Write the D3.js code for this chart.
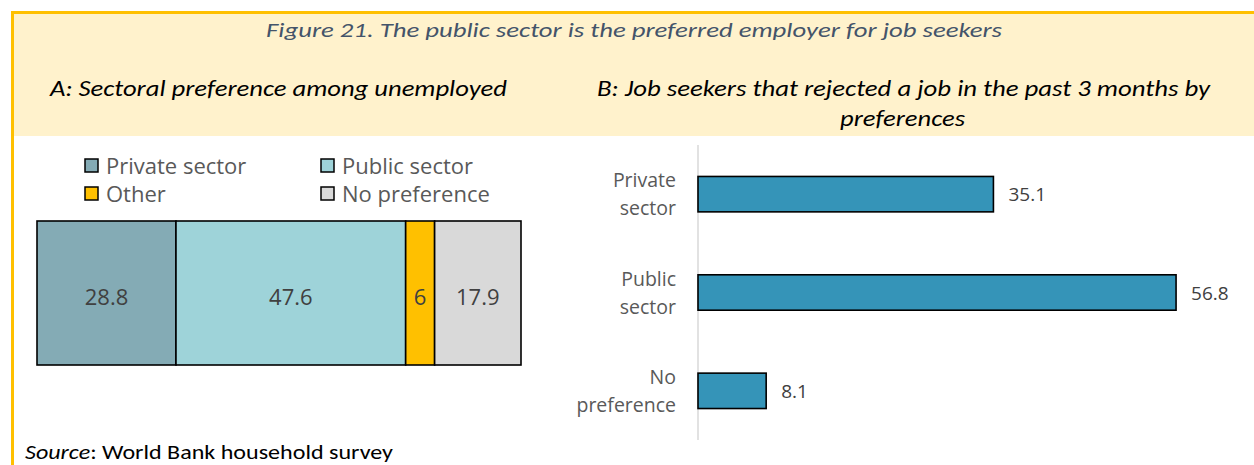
<!DOCTYPE html>
<html>
<head>
<meta charset="utf-8">
<script src="https://cdn.jsdelivr.net/npm/d3@7/dist/d3.min.js"></script>
<style>
  html, body { margin: 0; padding: 0; background: #ffffff; }
  svg { display: block; }
  .cal { font-family: Carlito, Lato, "Liberation Sans", sans-serif; }
  .seg { font-family: "Open Sans", "Noto Sans", "DejaVu Sans", sans-serif; }
</style>
</head>
<body>
<svg id="chart" width="1254" height="465"></svg>
<script>
// Panel A: sectoral preference among unemployed (stacked shares)
const prefCategories = ["Private sector", "Public sector", "Other", "No preference"];
const prefValues = [28.8, 47.6, 6, 17.9];
const prefColors = ["#84abb5", "#9ed3d9", "#ffc000", "#d9d9d9"];

// Panel B: job seekers that rejected a job in the past 3 months
const rejectCategories = ["Private sector", "Public sector", "No preference"];
const rejectValues = [35.1, 56.8, 8.1];
const rejectColor = "#3594b8";

const svg = d3.select("#chart");

// Frame and header band
svg.append("rect").attr("x", 14).attr("y", 14).attr("width", 1240).attr("height", 122)
  .attr("fill", "#fff2cc");
svg.append("line").attr("x1", 12.5).attr("x2", 12.5).attr("y1", 11).attr("y2", 465)
  .attr("stroke", "#ffc000").attr("stroke-width", 3);
svg.append("line").attr("x1", 11).attr("x2", 1254).attr("y1", 12.5).attr("y2", 12.5)
  .attr("stroke", "#ffc000").attr("stroke-width", 3);

// Headings
svg.append("text").attr("class", "cal").attr("x", 266).attr("y", 37)
  .attr("textLength", 736).attr("lengthAdjust", "spacingAndGlyphs")
  .attr("font-size", 21).attr("font-style", "italic").attr("fill", "#44546a")
  .text("Figure 21. The public sector is the preferred employer for job seekers");

svg.append("text").attr("class", "cal").attr("x", 50).attr("y", 96)
  .attr("textLength", 457).attr("lengthAdjust", "spacingAndGlyphs")
  .attr("font-size", 22).attr("font-style", "italic").attr("fill", "#000")
  .text("A: Sectoral preference among unemployed");

svg.append("text").attr("class", "cal").attr("x", 597).attr("y", 96)
  .attr("textLength", 613).attr("lengthAdjust", "spacingAndGlyphs")
  .attr("font-size", 22).attr("font-style", "italic").attr("fill", "#000")
  .text("B: Job seekers that rejected a job in the past 3 months by");
svg.append("text").attr("class", "cal").attr("x", 840).attr("y", 126)
  .attr("textLength", 125).attr("lengthAdjust", "spacingAndGlyphs")
  .attr("font-size", 22).attr("font-style", "italic").attr("fill", "#000")
  .text("preferences");

// ---------- Panel A ----------
const total = d3.sum(prefValues);
const xA = d3.scaleLinear().domain([0, total]).range([37, 521]);
const stacked = prefValues.map((v, i) => ({
  name: prefCategories[i], value: v, color: prefColors[i],
  x0: d3.sum(prefValues.slice(0, i)), x1: d3.sum(prefValues.slice(0, i + 1))
}));

const gA = svg.append("g");
gA.selectAll("rect.seg").data(stacked).join("rect")
  .attr("x", d => xA(d.x0)).attr("width", d => xA(d.x1) - xA(d.x0))
  .attr("y", 221).attr("height", 144)
  .attr("fill", d => d.color).attr("stroke", "#000").attr("stroke-width", 1.6);

gA.selectAll("text.val").data(stacked).join("text")
  .attr("class", "seg")
  .attr("x", d => (xA(d.x0) + xA(d.x1)) / 2).attr("y", 305)
  .attr("text-anchor", "middle").attr("font-size", 22).attr("fill", "#404040")
  .text(d => d3.format("~g")(d.value));

// Legend (two columns, two rows)
const legend = gA.selectAll("g.leg").data(stacked).join("g")
  .attr("transform", (d, i) => `translate(${i % 2 === 0 ? 85 : 321},${i < 2 ? 159 : 187})`);
legend.append("rect").attr("x", 0).attr("y", 0).attr("width", 13).attr("height", 13)
  .attr("fill", d => d.color).attr("stroke", "#000").attr("stroke-width", 1.5);
legend.append("text").attr("class", "seg").attr("x", 21).attr("y", 15)
  .attr("font-size", 22).attr("fill", "#595959").text(d => d.name);

// ---------- Panel B ----------
const xB = d3.scaleLinear().domain([0, 60]).range([698, 1203]);
const yB = d3.scaleBand().domain(rejectCategories).range([145, 440]).paddingInner(0.64).paddingOuter(0.32);

const gB = svg.append("g");
gB.append("line").attr("x1", 698).attr("x2", 698).attr("y1", 145).attr("y2", 440)
  .attr("stroke", "#d9d9d9").attr("stroke-width", 1.5);

gB.selectAll("rect.bar").data(rejectCategories).join("rect")
  .attr("x", xB(0)).attr("y", d => yB(d))
  .attr("width", (d, i) => xB(rejectValues[i]) - xB(0)).attr("height", yB.bandwidth())
  .attr("fill", rejectColor).attr("stroke", "#000").attr("stroke-width", 1.6);

gB.selectAll("text.val").data(rejectCategories).join("text")
  .attr("class", "seg")
  .attr("x", (d, i) => xB(rejectValues[i]) + 15)
  .attr("y", d => yB(d) + yB.bandwidth() / 2 + 7)
  .attr("font-size", 19).attr("fill", "#404040")
  .text((d, i) => rejectValues[i]);

// Category labels split over two lines
const catLabels = gB.selectAll("text.cat").data(rejectCategories).join("text")
  .attr("class", "seg").attr("text-anchor", "end").attr("font-size", 19.5).attr("fill", "#595959");
catLabels.each(function (d) {
  const cut = d.indexOf(" ");
  const lines = [d.slice(0, cut), d.slice(cut + 1)];
  const mid = yB(d) + yB.bandwidth() / 2;
  d3.select(this).selectAll("tspan").data(lines).join("tspan")
    .attr("x", 676).attr("y", (l, j) => mid - 7 + j * 28).text(l => l);
});

// Source note
const src = svg.append("text").attr("class", "cal").attr("x", 25).attr("y", 459)
  .attr("font-size", 21).attr("fill", "#000")
  .attr("textLength", 368).attr("lengthAdjust", "spacingAndGlyphs");
src.append("tspan").attr("font-style", "italic").text("Source");
src.append("tspan").text(": World Bank household survey");
</script>
</body>
</html>
